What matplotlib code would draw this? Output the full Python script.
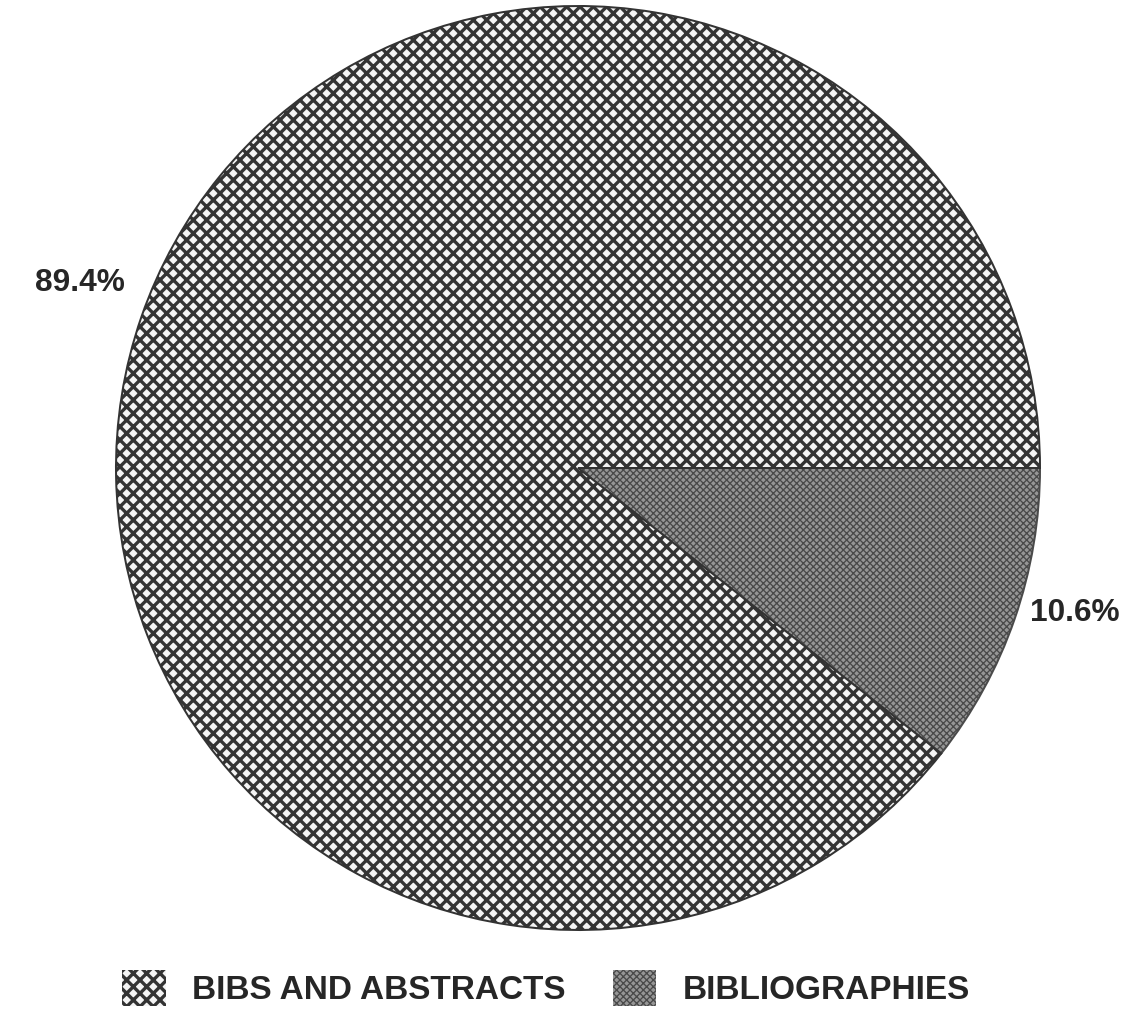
import matplotlib
matplotlib.use("Agg")
import matplotlib.pyplot as plt

# data
categories = ["BIBLIOGRAPHIES", "BIBS AND ABSTRACTS"]
shares = [10.6, 89.4]
pct_labels = ["10.6%", "89.4%"]

plt.rcParams['font.family'] = ['Liberation Sans', 'DejaVu Sans']
plt.rcParams['hatch.linewidth'] = 2.0

DPI = 120
fig = plt.figure(figsize=(1133 / DPI, 1025 / DPI), dpi=DPI)
fig.patch.set_facecolor('white')

# pie centre ~ (578, 468) px, radius ~ 462 px
ax = fig.add_axes([116 / 1133, 95 / 1025, 924 / 1133, 924 / 1025])

wedges, _ = ax.pie(shares, startangle=0, counterclock=False, radius=1.0,
                   wedgeprops=dict(linewidth=1.2))
ax.set_xlim(-1.0, 1.0)
ax.set_ylim(-1.0, 1.0)
ax.set_aspect('equal')
ax.axis('off')

bib, abstracts = wedges
abstracts.set_facecolor('#f4f4f4')
abstracts.set_edgecolor('#333333')
abstracts.set_hatch('xxx')

bib.set_facecolor('#969696')
bib.set_edgecolor('#4a4a4a')
bib.set_hatch('xxxxxx')
if hasattr(bib, 'set_hatch_linewidth'):
    bib.set_hatch_linewidth(0.8)

txt_color = '#262626'
fig.text(80 / 1133, 1 - 283 / 1025, pct_labels[1], ha='center', va='center',
         fontsize=19, fontweight='bold', color=txt_color)
fig.text(1075 / 1133, 1 - 613 / 1025, pct_labels[0], ha='center', va='center',
         fontsize=19, fontweight='bold', color=txt_color)

leg = fig.legend([abstracts, bib], [categories[1], categories[0]],
                 loc='center', bbox_to_anchor=(0.482, 1 - 988 / 1025),
                 ncol=2, frameon=False, handlelength=1.3,
                 handleheight=1.3, handletextpad=0.8, columnspacing=1.4,
                 prop={'weight': 'bold', 'size': 20})
for t in leg.get_texts():
    t.set_color(txt_color)
for h in leg.legend_handles:
    h.set_linewidth(0.0)
if hasattr(leg.legend_handles[1], 'set_hatch_linewidth'):
    leg.legend_handles[1].set_hatch_linewidth(0.8)

fig.savefig('out.png', dpi=DPI)
